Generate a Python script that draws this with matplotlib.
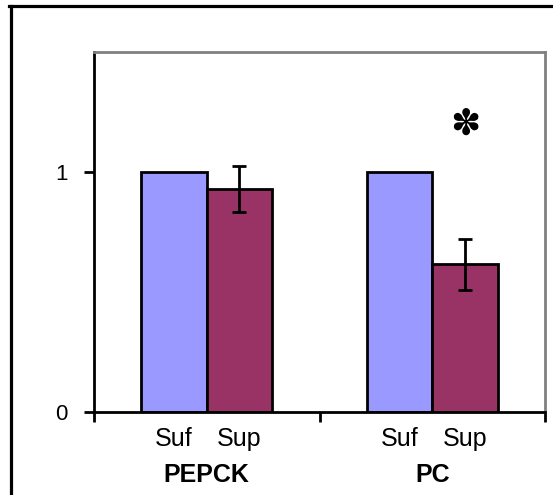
import matplotlib
matplotlib.use("Agg")
import matplotlib.pyplot as plt
from matplotlib.lines import Line2D
from matplotlib.transforms import blended_transform_factory, offset_copy
import numpy as np

# data
categories = ["PEPCK", "PC"]
conditions = ["Suf", "Sup"]
suf_values = [1.0, 1.0]
sup_values = [0.93, 0.615]
sup_errors = [0.095, 0.105]
significant = [False, True]

plt.rcParams['font.family'] = ['Liberation Sans', 'DejaVu Sans']

fig = plt.figure(figsize=(5.53, 4.95), dpi=100)
ax = fig.add_axes([94 / 553, 83 / 495, 451 / 553, 360 / 495])

x = np.arange(len(categories))
width = 0.29
ax.bar(x - width / 2, suf_values, width, color="#9999ff", edgecolor="black", linewidth=2)
ax.bar(x + width / 2, sup_values, width, color="#993366", edgecolor="black", linewidth=2,
       yerr=sup_errors, error_kw=dict(ecolor="black", elinewidth=2, capsize=5.3, capthick=2))

for i, sig in enumerate(significant):
    if sig:
        ax.text(x[i] + width / 2, 1.195, "\u273d", ha="center", va="center",
                fontsize=26, family="DejaVu Sans", color="black")

ax.set_xlim(-0.5, len(categories) - 0.5)
ax.set_ylim(0, 1.5)
ax.set_yticks([0, 1])
ax.set_yticklabels(["0", "1"], fontsize=16)

# group boundaries as major ticks, condition labels as minor ticks
ax.set_xticks(np.arange(len(categories) + 1) - 0.5)
ax.set_xticklabels([])
sub_pos = np.concatenate([[c - width / 2, c + width / 2] for c in x])
ax.set_xticks(sub_pos, minor=True)
ax.set_xticklabels(conditions * len(categories), minor=True, fontsize=18)
ax.tick_params(axis="x", which="minor", length=0, pad=11)
ax.tick_params(axis="both", which="major", length=7, width=2, direction="out")
ax.tick_params(axis="y", which="major", pad=12)

trans = offset_copy(blended_transform_factory(ax.transData, ax.transAxes),
                    fig=fig, y=-45, units="points")
for i, cat in enumerate(categories):
    ax.text(x[i], 0, cat, transform=trans, ha="center", va="center",
            fontsize=18, fontweight="bold")

for side in ["left", "bottom"]:
    ax.spines[side].set_color("black")
    ax.spines[side].set_linewidth(2)
for side in ["top", "right"]:
    ax.spines[side].set_color("#808080")
    ax.spines[side].set_linewidth(2)

# outer frame (only top and left edges visible)
fig.add_artist(Line2D([10.5 / 553, 10.5 / 553], [0, 1 - 6 / 495], color="black", linewidth=2.3))
fig.add_artist(Line2D([9.3 / 553, 1], [1 - 6 / 495, 1 - 6 / 495], color="black", linewidth=2.3))

fig.savefig("out.png", dpi=100)
